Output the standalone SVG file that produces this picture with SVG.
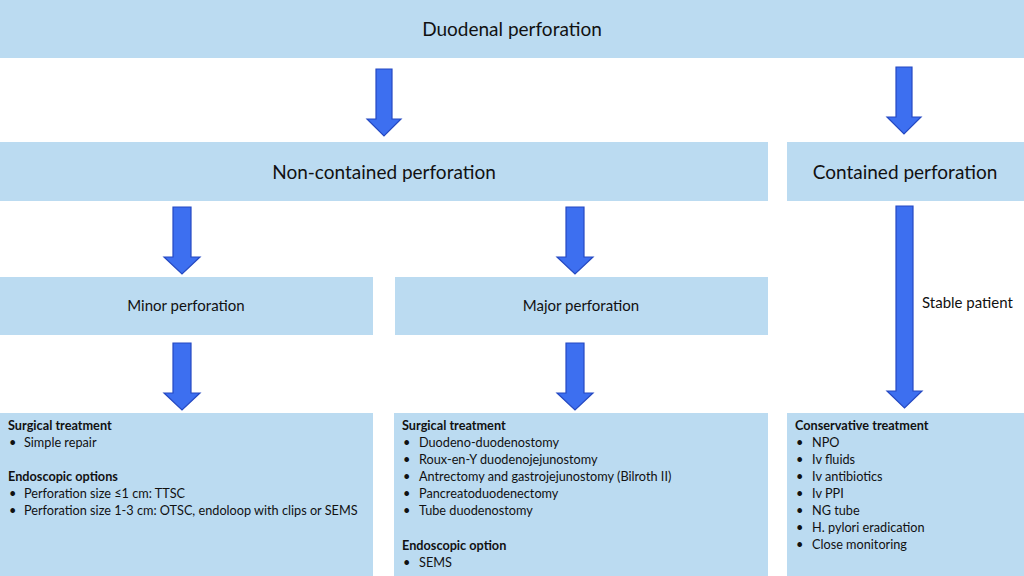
<svg xmlns="http://www.w3.org/2000/svg" width="1024" height="576" viewBox="0 0 1024 576">
<style>
.box{fill:#bbdbf1}
.arr{fill:#3d6ff0;stroke:#2549c2;stroke-width:1.2}
.t{font-family:Lato,"Liberation Sans",sans-serif;fill:#111}
.h1{font-size:19px;text-anchor:middle}
.h2{font-size:15px;text-anchor:middle}
.s{font-size:12.7px}
.b{font-weight:bold}
</style>
<rect width="1024" height="576" fill="#fff"/>
<g id="n-duodenal"><rect class="box" x="0" y="0" width="1024" height="58"/><text class="t h1" x="512" y="36">Duodenal perforation</text></g>
<g id="n-noncontained"><rect class="box" x="0" y="142" width="768" height="59"/><text class="t h1" x="384" y="179">Non-contained perforation</text></g>
<g id="n-contained"><rect class="box" x="787" y="142" width="237" height="59"/><text class="t h1" x="905" y="179">Contained perforation</text></g>
<g id="n-minor"><rect class="box" x="0" y="277" width="373" height="58"/><text class="t h2" x="186" y="311">Minor perforation</text></g>
<g id="n-major"><rect class="box" x="395" y="277" width="373" height="58"/><text class="t h2" x="581" y="311">Major perforation</text></g>
<g id="n-minor-tx"><rect class="box" x="0" y="413" width="373" height="163"/>
<text class="t s b" x="8" y="430">Surgical treatment</text>
<text class="t s" x="9" y="447">•</text><text class="t s" x="24" y="447">Simple repair</text>
<text class="t s b" x="8" y="481">Endoscopic options</text>
<text class="t s" x="9" y="498">•</text><text class="t s" x="24" y="498">Perforation size ≤1 cm: TTSC</text>
<text class="t s" x="9" y="515">•</text><text class="t s" x="24" y="515">Perforation size 1-3 cm: OTSC, endoloop with clips or SEMS</text>
</g>
<g id="n-major-tx"><rect class="box" x="394" y="413" width="374" height="163"/>
<text class="t s b" x="402" y="430">Surgical treatment</text>
<text class="t s" x="403" y="447">•</text><text class="t s" x="419" y="447">Duodeno-duodenostomy</text>
<text class="t s" x="403" y="464">•</text><text class="t s" x="419" y="464">Roux-en-Y duodenojejunostomy</text>
<text class="t s" x="403" y="481">•</text><text class="t s" x="419" y="481">Antrectomy and gastrojejunostomy (Bilroth II)</text>
<text class="t s" x="403" y="498">•</text><text class="t s" x="419" y="498">Pancreatoduodenectomy</text>
<text class="t s" x="403" y="515">•</text><text class="t s" x="419" y="515">Tube duodenostomy</text>
<text class="t s b" x="402" y="550">Endoscopic option</text>
<text class="t s" x="403" y="567">•</text><text class="t s" x="419" y="567">SEMS</text>
</g>
<g id="n-conservative"><rect class="box" x="787" y="413" width="237" height="163"/>
<text class="t s b" x="795" y="430">Conservative treatment</text>
<text class="t s" x="796" y="447">•</text><text class="t s" x="812" y="447">NPO</text>
<text class="t s" x="796" y="464">•</text><text class="t s" x="812" y="464">Iv fluids</text>
<text class="t s" x="796" y="481">•</text><text class="t s" x="812" y="481">Iv antibiotics</text>
<text class="t s" x="796" y="498">•</text><text class="t s" x="812" y="498">Iv PPI</text>
<text class="t s" x="796" y="515">•</text><text class="t s" x="812" y="515">NG tube</text>
<text class="t s" x="796" y="532">•</text><text class="t s" x="812" y="532">H. pylori eradication</text>
<text class="t s" x="796" y="549">•</text><text class="t s" x="812" y="549">Close monitoring</text>
</g>
<g id="connectors">
<path class="arr" d="M376,69 H392 V119 H401 L384,136 L367,119 H376 Z"/>
<path class="arr" d="M896,67 H912 V117 H921 L904,134 L887,117 H896 Z"/>
<path class="arr" d="M173,207 H191 V257 H200 L182,274 L164,257 H173 Z"/>
<path class="arr" d="M566,207 H584 V257 H593 L575,274 L557,257 H566 Z"/>
<path class="arr" d="M173,343 H191 V393 H200 L182,410 L164,393 H173 Z"/>
<path class="arr" d="M566,343 H584 V393 H593 L575,410 L557,393 H566 Z"/>
<path class="arr" d="M896,206 H913 V391 H922 L904.5,408 L887,391 H896 Z"/>
<text class="t" x="922" y="308" font-size="15">Stable patient</text>
</g>
</svg>
